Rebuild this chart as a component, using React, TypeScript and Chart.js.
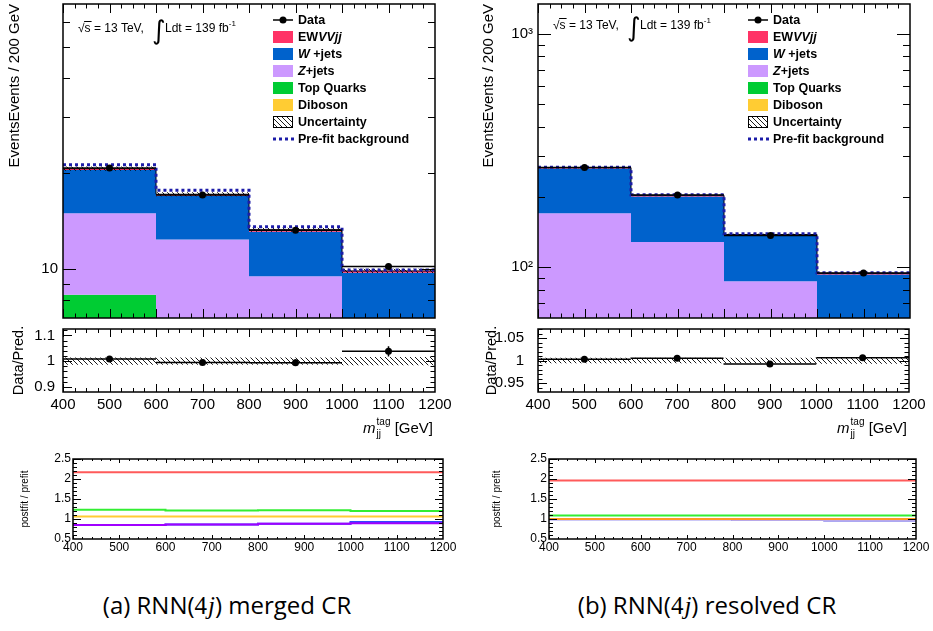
import React, { useEffect, useRef } from 'react';
import { Chart, registerables } from 'chart.js';

Chart.register(...registerables);

const FONT = "'Liberation Sans', Arial, Helvetica, sans-serif";

// ---------- shared binning ----------
const binEdges = [400, 600, 800, 1000, 1200];
const binCenters = [500, 700, 900, 1100];
const massTicks = [400, 500, 600, 700, 800, 900, 1000, 1100, 1200];
const massTickLabels = ['400', '500', '600', '700', '800', '900', '1000', '1100', '1200'];

// ---------- (a) RNN(4j) merged CR ----------
const mergedDiboson = [0.4, 0.35, 0.3, 0.2];
const mergedTopQuarks = [7.9, 4.5, 2.5, 1.5];
const mergedZjets = [6.7, 7.55, 6.7, 4.5];
const mergedWjets = [5.5, 4.6, 3.6, 3.55];
const mergedEWVVjj = [0.2, 0.2, 0.2, 0.12];
const mergedUncertainty = [0.31, 0.26, 0.2, 0.15];
const mergedPrefit = [21.3, 17.7, 13.6, 9.93];
const mergedData = [20.8, 17.1, 13.25, 10.2];
const mergedDataErr = [0.1, 0.1, 0.15, 0.2];
const mergedRatio = [1.008, 0.995, 0.994, 1.038];
const mergedRatioErr = [0.005, 0.006, 0.012, 0.02];
const mergedRatioUnc = [0.014, 0.014, 0.014, 0.016];
const mergedMainTicks = [10];
const mergedMainTickLabels = ['10'];
const mergedRatioTicks = [0.9, 1, 1.1];
const mergedRatioTickLabels = ['0.9', '1', '1.1'];
const mergedPfWjets = [0.85, 0.865, 0.88, 0.922];
const mergedPfZjets = [0.85, 0.865, 0.88, 0.895];
const mergedPfDiboson = [1.06, 1.06, 1.06, 1.06];
const mergedPfTopQuarks = [1.23, 1.21, 1.22, 1.2];
const mergedPfEWVVjj = [2.17, 2.17, 2.17, 2.17];

// ---------- (b) RNN(4j) resolved CR ----------
const resolvedDiboson = [8, 6, 4, 3];
const resolvedTopQuarks = [12, 9, 6, 4];
const resolvedZjets = [150, 113, 77, 45];
const resolvedWjets = [95, 73, 49.5, 41];
const resolvedEWVVjj = [2, 2, 1.5, 1];
const resolvedUncertainty = [1.9, 1.4, 1.0, 0.66];
const resolvedPrefit = [268, 204.5, 139, 94.6];
const resolvedData = [267, 204, 136.5, 94.3];
const resolvedDataErr = [0.5, 0.6, 0.4, 0.4];
const resolvedRatio = [1.003, 1.005, 0.992, 1.006];
const resolvedRatioErr = [0.002, 0.002, 0.002, 0.003];
const resolvedRatioUnc = [0.006, 0.006, 0.006, 0.007];
const resolvedMainTicks = [100, 1000];
const resolvedMainTickLabels = ['10²', '10³'];
const resolvedRatioTicks = [0.95, 1, 1.05];
const resolvedRatioTickLabels = ['0.95', '1', '1.05'];
const resolvedPfWjets = [0.995, 0.995, 0.978, 0.965];
const resolvedPfZjets = [0.995, 0.995, 0.975, 0.97];
const resolvedPfDiboson = [1.0, 1.0, 1.0, 1.0];
const resolvedPfTopQuarks = [1.09, 1.09, 1.09, 1.09];
const resolvedPfEWVVjj = [1.96, 1.96, 1.96, 1.96];

const postfitTicks = [0.5, 1, 1.5, 2, 2.5];
const postfitTickLabels = ['0.5', '1', '1.5', '2', '2.5'];

type Seg = [string, boolean];
const legendLabels: Seg[][] = [
  [['Data', false]],
  [['EW', false], ['VVjj', true]],
  [['W', true], [' +jets', false]],
  [['Z', true], ['+jets', false]],
  [['Top Quarks', false]],
  [['Diboson', false]],
  [['Uncertainty', false]],
  [['Pre-fit background', false]],
];
const captionA = ['(a) RNN(', ') merged CR'];
const captionB = ['(b) RNN(', ') resolved CR'];

// ---------- styles ----------
const COL = { diboson: '#ffcc33', top: '#00cc33', zjets: '#cc99ff', wjets: '#0062cc', ew: '#ff3366' };
const compColors = [COL.diboson, COL.top, COL.zjets, COL.wjets, COL.ew];
const legendColors = [COL.ew, COL.wjets, COL.zjets, COL.top, COL.diboson];
const PREFIT_COLOR = '#1c1ca8';
const CLEAR = 'rgba(0,0,0,0)';

type Box = { left: number; top: number; w: number; h: number };
type Area = { l: number; t: number; r: number; b: number };

function stepPts(vals: number[]) {
  return binEdges.map((x, i) => ({ x, y: vals[Math.min(i, vals.length - 1)] }));
}
function range(a: number, b: number, step: number) {
  const out: number[] = [];
  for (let v = a; v <= b + 1e-9; v += step) out.push(+v.toFixed(6));
  return out;
}
function logTicks(min: number, max: number, major: boolean) {
  const out: number[] = [];
  for (let e = Math.floor(Math.log10(min)); e <= Math.ceil(Math.log10(max)); e++) {
    for (let k = 1; k < 10; k++) {
      if ((k === 1) !== major) continue;
      const v = k * Math.pow(10, e);
      if (v >= min && v <= max) out.push(v);
    }
  }
  return out;
}
// later datasets drawn on top
function withOrder(ds: any[]) {
  return ds.map((d, i) => ({ ...d, order: ds.length - i }));
}

function makeHatch(): CanvasPattern {
  const c = document.createElement('canvas');
  c.width = 5;
  c.height = 5;
  const g = c.getContext('2d')!;
  g.strokeStyle = '#000';
  g.lineWidth = 0.9;
  g.beginPath();
  g.moveTo(-1, -1); g.lineTo(6, 6);
  g.moveTo(-1, 4); g.lineTo(1, 6);
  g.moveTo(4, -1); g.lineTo(6, 1);
  g.stroke();
  return g.createPattern(c, 'repeat')!;
}

type TickSpec = { xMajor: number[]; xMinor: number[]; yMajor: number[]; yMinor: number[]; xMaj: number; xMin: number; yMaj: number; yMin: number };

function framePlugin(spec: TickSpec) {
  return {
    id: 'rootFrame',
    afterDraw(chart: any) {
      const { ctx, chartArea: a, scales } = chart;
      const xs = scales.x, ys = scales.y;
      ctx.save();
      ctx.strokeStyle = '#000';
      ctx.lineWidth = 1;
      ctx.beginPath();
      const tx = (vals: number[], len: number) => {
        for (const v of vals) {
          const px = Math.round(xs.getPixelForValue(v)) + 0.5;
          if (px < a.left || px > a.right) continue;
          ctx.moveTo(px, a.bottom); ctx.lineTo(px, a.bottom - len);
          ctx.moveTo(px, a.top); ctx.lineTo(px, a.top + len);
        }
      };
      const ty = (vals: number[], len: number) => {
        for (const v of vals) {
          const py = Math.round(ys.getPixelForValue(v)) + 0.5;
          if (py < a.top || py > a.bottom) continue;
          ctx.moveTo(a.left, py); ctx.lineTo(a.left + len, py);
          ctx.moveTo(a.right, py); ctx.lineTo(a.right - len, py);
        }
      };
      tx(spec.xMajor, spec.xMaj); tx(spec.xMinor, spec.xMin);
      ty(spec.yMajor, spec.yMaj); ty(spec.yMinor, spec.yMin);
      ctx.stroke();
      ctx.lineWidth = 1.5;
      ctx.strokeRect(a.left, a.top, a.right - a.left, a.bottom - a.top);
      ctx.restore();
    },
  };
}

const errorBarPlugin = {
  id: 'errBars',
  afterDatasetsDraw(chart: any) {
    const { ctx, chartArea: a, scales } = chart;
    const x = scales.x, y = scales.y;
    ctx.save();
    ctx.beginPath();
    ctx.rect(a.left, a.top, a.right - a.left, a.bottom - a.top);
    ctx.clip();
    chart.data.datasets.forEach((ds: any) => {
      if (!ds.errY) return;
      ds.data.forEach((pt: any, i: number) => {
        const px = x.getPixelForValue(pt.x), py = y.getPixelForValue(pt.y);
        ctx.strokeStyle = '#000';
        ctx.lineWidth = 1.5;
        ctx.beginPath();
        ctx.moveTo(x.getPixelForValue(pt.x - ds.halfW), py);
        ctx.lineTo(x.getPixelForValue(pt.x + ds.halfW), py);
        ctx.moveTo(px, y.getPixelForValue(pt.y - ds.errY[i]));
        ctx.lineTo(px, y.getPixelForValue(pt.y + ds.errY[i]));
        ctx.stroke();
      });
    });
    ctx.restore();
  },
};

function drawSegs(ctx: CanvasRenderingContext2D, x: number, y: number, segs: Seg[], size: number, bold: boolean) {
  let cx = x;
  for (const [t, it] of segs) {
    ctx.font = `${it ? 'italic ' : ''}${bold ? 'bold ' : ''}${size}px ${FONT}`;
    ctx.fillText(t, cx, y);
    cx += ctx.measureText(t).width;
  }
  return cx;
}

function legendPlugin(hatch: CanvasPattern, atlasDy: number) {
  return {
    id: 'rootLegend',
    afterDraw(chart: any) {
      const { ctx, chartArea: a } = chart;
      const bx = a.left + 210, tx = a.left + 235;
      ctx.save();
      ctx.textBaseline = 'middle';
      legendLabels.forEach((segs, i) => {
        const y = a.top + 16 + 17 * i;
        if (i === 0) {
          ctx.strokeStyle = '#000'; ctx.lineWidth = 1.5;
          ctx.beginPath(); ctx.moveTo(bx, y); ctx.lineTo(bx + 20, y); ctx.stroke();
          ctx.fillStyle = '#000';
          ctx.beginPath(); ctx.arc(bx + 10, y, 3.5, 0, Math.PI * 2); ctx.fill();
        } else if (i <= 5) {
          ctx.fillStyle = legendColors[i - 1];
          ctx.fillRect(bx, y - 6, 20, 12);
        } else if (i === 6) {
          ctx.fillStyle = '#fff'; ctx.fillRect(bx, y - 6, 20, 12);
          ctx.fillStyle = hatch; ctx.fillRect(bx, y - 6, 20, 12);
          ctx.strokeStyle = '#000'; ctx.lineWidth = 1; ctx.strokeRect(bx + 0.5, y - 5.5, 19, 11);
        } else {
          ctx.strokeStyle = PREFIT_COLOR; ctx.lineWidth = 3; ctx.setLineDash([3, 3]);
          ctx.beginPath(); ctx.moveTo(bx, y); ctx.lineTo(bx + 21, y); ctx.stroke();
          ctx.setLineDash([]);
        }
        ctx.fillStyle = '#000';
        drawSegs(ctx, tx, y + 0.5, segs, 12.5, true);
      });
      // sqrt(s) and luminosity label
      ctx.textBaseline = 'alphabetic';
      ctx.fillStyle = '#000';
      const x0 = a.left + 15, yb = a.top + 28 + atlasDy;
      ctx.font = `12px ${FONT}`;
      ctx.fillText('√', x0, yb);
      const wr = ctx.measureText('√').width;
      const ws = ctx.measureText('s').width;
      ctx.fillText('s = 13 TeV,', x0 + wr, yb);
      ctx.fillRect(x0 + wr - 0.5, yb - 11, ws + 1.5, 1);
      ctx.font = `26px 'DejaVu Sans', ${FONT}`;
      ctx.fillText('∫', a.left + 89, yb + 7);
      ctx.font = `12px ${FONT}`;
      ctx.fillText('Ldt = 139 fb', a.left + 102, yb);
      const wl = ctx.measureText('Ldt = 139 fb').width;
      ctx.font = `8px ${FONT}`;
      ctx.fillText('-1', a.left + 102 + wl, yb - 6);
      ctx.restore();
    },
  };
}

const xTitlePlugin = {
  id: 'xTitle',
  afterDraw(chart: any) {
    const { ctx, chartArea: a } = chart;
    ctx.save();
    ctx.fillStyle = '#000';
    ctx.textBaseline = 'alphabetic';
    const yb = a.bottom + 41;
    ctx.font = `15px ${FONT}`;
    const wg = ctx.measureText(' [GeV]').width;
    ctx.font = `10px ${FONT}`;
    const wsup = ctx.measureText('tag').width;
    const wsub = ctx.measureText('jj').width;
    ctx.font = `italic 15px ${FONT}`;
    const wm = ctx.measureText('m').width;
    const xg = a.right - 2 - wg;
    const xs = xg - Math.max(wsup, wsub);
    const xm = xs - wm - 1;
    ctx.fillText('m', xm, yb);
    ctx.font = `10px ${FONT}`;
    ctx.fillText('tag', xs, yb - 8);
    ctx.fillText('jj', xs, yb + 4);
    ctx.font = `15px ${FONT}`;
    ctx.fillText(' [GeV]', xg, yb);
    ctx.restore();
  },
};

function xScale(box: Box, area: Area, show: boolean, fontSize: number, pad: number) {
  return {
    type: 'linear', min: 400, max: 1200, display: show,
    grid: { display: false, drawTicks: false }, border: { display: false },
    afterBuildTicks: (s: any) => { s.ticks = massTicks.map((v) => ({ value: v })); },
    ticks: {
      autoSkip: false, maxRotation: 0, minRotation: 0, padding: pad, color: '#000',
      font: { family: FONT, size: fontSize },
      callback: (v: number) => { const i = massTicks.indexOf(v); return i >= 0 ? massTickLabels[i] : ''; },
    },
    afterFit: (s: any) => { if (show) s.height = box.top + box.h - area.b; s.paddingLeft = 0; s.paddingRight = 0; },
  };
}

function yScale(o: { type: string; min: number; max: number; box: Box; area: Area; ticks: number[]; labels: string[]; fontSize: number; pad: number; title: string; titleSize: number; titlePad: number; align: string }) {
  return {
    type: o.type, min: o.min, max: o.max, position: 'left',
    grid: { display: false, drawTicks: false }, border: { display: false },
    afterBuildTicks: (s: any) => { s.ticks = o.ticks.map((v) => ({ value: v })); },
    ticks: {
      autoSkip: false, padding: o.pad, color: '#000', font: { family: FONT, size: o.fontSize },
      callback: (v: number) => { const i = o.ticks.indexOf(v); return i >= 0 ? o.labels[i] : ''; },
    },
    title: { display: true, text: o.title, align: o.align, color: '#000', font: { family: FONT, size: o.titleSize }, padding: { top: o.titlePad, bottom: 0 } },
    afterFit: (s: any) => { s.width = o.area.l - o.box.left; s.paddingTop = 0; s.paddingBottom = 0; },
  };
}

function baseOpts(box: Box, area: Area, xShown: boolean, scales: any) {
  return {
    animation: false, responsive: false, maintainAspectRatio: false, events: [],
    layout: { padding: { left: 0, top: area.t - box.top, right: box.left + box.w - area.r, bottom: xShown ? 0 : box.top + box.h - area.b } },
    plugins: { legend: { display: false }, tooltip: { enabled: false } },
    scales,
  };
}

interface PanelSpec {
  x0: number;
  w: number;
  mainArea: Area; ratioArea: Area; pfArea: Area;
  comps: number[][];
  unc: number[]; prefit: number[]; data: number[]; dataErr: number[];
  yMin: number; yMax: number; mainTicks: number[]; mainTickLabels: string[];
  ratio: number[]; ratioErr: number[]; ratioUnc: number[];
  rMin: number; rMax: number; rTicks: number[]; rTickLabels: string[]; rMinorStep: number; rTickPad: number;
  pf: number[][]; pfColors: string[];
  mainTitlePad: number; ratioTitlePad: number; pfTitlePad: number; atlasDy: number;
}

const boxes = (p: PanelSpec) => ({
  main: { left: p.x0, top: 0, w: p.w, h: 322 },
  ratio: { left: p.x0, top: 322, w: p.w, h: 123 },
  pf: { left: p.x0, top: 445, w: p.w, h: 115 },
});

const STEP = 'before';

function mainConfig(p: PanelSpec) {
  const hatch = makeHatch();
  const box = boxes(p).main, area = p.mainArea;
  const datasets: any[] = [];
  let cum = binCenters.map(() => 0);
  p.comps.forEach((vals, i) => {
    cum = cum.map((c, j) => c + vals[j]);
    datasets.push({ data: stepPts(cum), stepped: STEP, fill: i === 0 ? 'start' : '-1', backgroundColor: compColors[i], borderColor: CLEAR, borderWidth: 0, pointRadius: 0 });
  });
  const total = cum;
  datasets.push({ data: stepPts(total.map((t, j) => t - p.unc[j])), stepped: STEP, fill: false, borderColor: CLEAR, borderWidth: 0, pointRadius: 0 });
  datasets.push({ data: stepPts(total.map((t, j) => t + p.unc[j])), stepped: STEP, fill: '-1', backgroundColor: hatch, borderColor: CLEAR, borderWidth: 0, pointRadius: 0 });
  datasets.push({ data: stepPts(total), stepped: STEP, fill: false, borderColor: '#000', borderWidth: 1, pointRadius: 0 });
  datasets.push({ data: stepPts(p.prefit), stepped: STEP, fill: false, borderColor: PREFIT_COLOR, borderWidth: 3, borderDash: [3, 3], pointRadius: 0 });
  datasets.push({ data: binCenters.map((x, i) => ({ x, y: p.data[i] })), showLine: false, pointRadius: 3.5, pointBackgroundColor: '#000', pointBorderColor: '#000', pointBorderWidth: 0, errY: p.dataErr, halfW: 100 });
  const spec: TickSpec = {
    xMajor: massTicks, xMinor: range(400, 1200, 25), yMajor: logTicks(p.yMin, p.yMax, true), yMinor: logTicks(p.yMin, p.yMax, false),
    xMaj: 9, xMin: 4.5, yMaj: 13, yMin: 7,
  };
  return {
    type: 'line',
    data: { datasets: withOrder(datasets) },
    options: baseOpts(box, area, false, {
      x: xScale(box, area, false, 15, 4),
      y: yScale({ type: 'logarithmic', min: p.yMin, max: p.yMax, box, area, ticks: p.mainTicks, labels: p.mainTickLabels, fontSize: 15, pad: 5, title: 'EventsEvents / 200 GeV', titleSize: 15, titlePad: p.mainTitlePad, align: 'end' }),
    }),
    plugins: [errorBarPlugin, framePlugin(spec), legendPlugin(hatch, p.atlasDy)],
  };
}

function ratioConfig(p: PanelSpec) {
  const hatch = makeHatch();
  const box = boxes(p).ratio, area = p.ratioArea;
  const datasets: any[] = [
    { data: stepPts(p.ratioUnc.map((u) => 1 - u)), stepped: STEP, fill: false, borderColor: CLEAR, borderWidth: 0, pointRadius: 0 },
    { data: stepPts(p.ratioUnc.map((u) => 1 + u)), stepped: STEP, fill: '-1', backgroundColor: hatch, borderColor: CLEAR, borderWidth: 0, pointRadius: 0 },
    { data: binCenters.map((x, i) => ({ x, y: p.ratio[i] })), showLine: false, pointRadius: 3.5, pointBackgroundColor: '#000', pointBorderColor: '#000', pointBorderWidth: 0, errY: p.ratioErr, halfW: 100 },
  ];
  const spec: TickSpec = {
    xMajor: massTicks, xMinor: range(400, 1200, 25),
    yMajor: p.rTicks, yMinor: range(Math.ceil(p.rMin / p.rMinorStep) * p.rMinorStep, p.rMax, p.rMinorStep),
    xMaj: 8, xMin: 4, yMaj: 9, yMin: 4.5,
  };
  return {
    type: 'line',
    data: { datasets: withOrder(datasets) },
    options: baseOpts(box, area, true, {
      x: xScale(box, area, true, 15, 4),
      y: yScale({ type: 'linear', min: p.rMin, max: p.rMax, box, area, ticks: p.rTicks, labels: p.rTickLabels, fontSize: 15, pad: p.rTickPad, title: 'Data/Pred.', titleSize: 14.5, titlePad: p.ratioTitlePad, align: 'center' }),
    }),
    plugins: [errorBarPlugin, framePlugin(spec), xTitlePlugin],
  };
}

function postfitConfig(p: PanelSpec) {
  const box = boxes(p).pf, area = p.pfArea;
  const datasets = p.pf.map((vals, i) => ({ data: stepPts(vals), stepped: STEP, fill: false, borderColor: p.pfColors[i], borderWidth: 2, pointRadius: 0 }));
  const spec: TickSpec = {
    xMajor: massTicks, xMinor: range(400, 1200, 20), yMajor: postfitTicks, yMinor: range(0.5, 2.5, 0.1),
    xMaj: 4, xMin: 2, yMaj: 8, yMin: 4,
  };
  return {
    type: 'line',
    data: { datasets: withOrder(datasets) },
    options: baseOpts(box, area, true, {
      x: xScale(box, area, true, 12, 1),
      y: yScale({ type: 'linear', min: 0.5, max: 2.5, box, area, ticks: postfitTicks, labels: postfitTickLabels, fontSize: 12, pad: 2, title: 'postfit / prefit', titleSize: 10, titlePad: p.pfTitlePad, align: 'center' }),
    }),
    plugins: [framePlugin(spec)],
  };
}

const panelA: PanelSpec = {
  x0: 0, w: 465,
  mainArea: { l: 63, t: 4, r: 435, b: 319 },
  ratioArea: { l: 63, t: 329, r: 435, b: 392 },
  pfArea: { l: 73, t: 459, r: 443, b: 539 },
  comps: [mergedDiboson, mergedTopQuarks, mergedZjets, mergedWjets, mergedEWVVjj],
  unc: mergedUncertainty, prefit: mergedPrefit, data: mergedData, dataErr: mergedDataErr,
  yMin: 7.02, yMax: 68.2, mainTicks: mergedMainTicks, mainTickLabels: mergedMainTickLabels,
  ratio: mergedRatio, ratioErr: mergedRatioErr, ratioUnc: mergedRatioUnc,
  rMin: 0.88, rMax: 1.125, rTicks: mergedRatioTicks, rTickLabels: mergedRatioTickLabels, rMinorStep: 0.02, rTickPad: 8,
  pf: [mergedPfWjets, mergedPfZjets, mergedPfDiboson, mergedPfTopQuarks, mergedPfEWVVjj],
  pfColors: ['#3344ff', '#a000ff', '#ffcc33', '#33ee33', '#ff5a5a'],
  mainTitlePad: 6, ratioTitlePad: 10, pfTitlePad: 19, atlasDy: 0,
};

const panelB: PanelSpec = {
  x0: 470, w: 463,
  mainArea: { l: 538, t: 4, r: 910, b: 319 },
  ratioArea: { l: 538, t: 329, r: 909, b: 392 },
  pfArea: { l: 549, t: 459, r: 916, b: 539 },
  comps: [resolvedDiboson, resolvedTopQuarks, resolvedZjets, resolvedWjets, resolvedEWVVjj],
  unc: resolvedUncertainty, prefit: resolvedPrefit, data: resolvedData, dataErr: resolvedDataErr,
  yMin: 60.5, yMax: 1343, mainTicks: resolvedMainTicks, mainTickLabels: resolvedMainTickLabels,
  ratio: resolvedRatio, ratioErr: resolvedRatioErr, ratioUnc: resolvedRatioUnc,
  rMin: 0.93, rMax: 1.07, rTicks: resolvedRatioTicks, rTickLabels: resolvedRatioTickLabels, rMinorStep: 0.01, rTickPad: 14,
  pf: [resolvedPfWjets, resolvedPfZjets, resolvedPfDiboson, resolvedPfTopQuarks, resolvedPfEWVVjj],
  pfColors: ['#5555ee', '#b8a8e8', '#ff9922', '#33ee33', '#ff5a5a'],
  mainTitlePad: 10, ratioTitlePad: 13, pfTitlePad: 21, atlasDy: -3,
};

function ChartBox({ box, make }: { box: Box; make: () => any }) {
  const ref = useRef<HTMLCanvasElement>(null);
  useEffect(() => {
    const chart = new Chart(ref.current as HTMLCanvasElement, make());
    return () => chart.destroy();
  }, []);
  return (
    <div style={{ position: 'absolute', left: box.left, top: box.top, width: box.w, height: box.h }}>
      <canvas ref={ref} width={box.w} height={box.h} style={{ display: 'block', width: box.w, height: box.h }} />
    </div>
  );
}

function Panel({ p }: { p: PanelSpec }) {
  const b = boxes(p);
  return (
    <>
      <ChartBox box={b.main} make={() => mainConfig(p)} />
      <ChartBox box={b.ratio} make={() => ratioConfig(p)} />
      <ChartBox box={b.pf} make={() => postfitConfig(p)} />
    </>
  );
}

function Caption({ parts, center }: { parts: string[]; center: number }) {
  return (
    <div style={{ position: 'absolute', left: center - 220, top: 588, width: 440, textAlign: 'center', fontFamily: "'Open Sans', 'Noto Sans', sans-serif", fontSize: 24, color: '#000', whiteSpace: 'nowrap' }}>
      {parts[0]}
      <span style={{ fontFamily: "'Liberation Serif', 'DejaVu Serif', serif", fontSize: 25 }}>4<i style={{ marginLeft: 1 }}>j</i></span>
      {parts[1]}
    </div>
  );
}

export default function App() {
  return (
    <div style={{ position: 'absolute', left: 0, top: 0, width: 933, height: 631, background: '#fff', overflow: 'hidden' }}>
      <Panel p={panelA} />
      <Panel p={panelB} />
      <Caption parts={captionA} center={227} />
      <Caption parts={captionB} center={707} />
    </div>
  );
}
